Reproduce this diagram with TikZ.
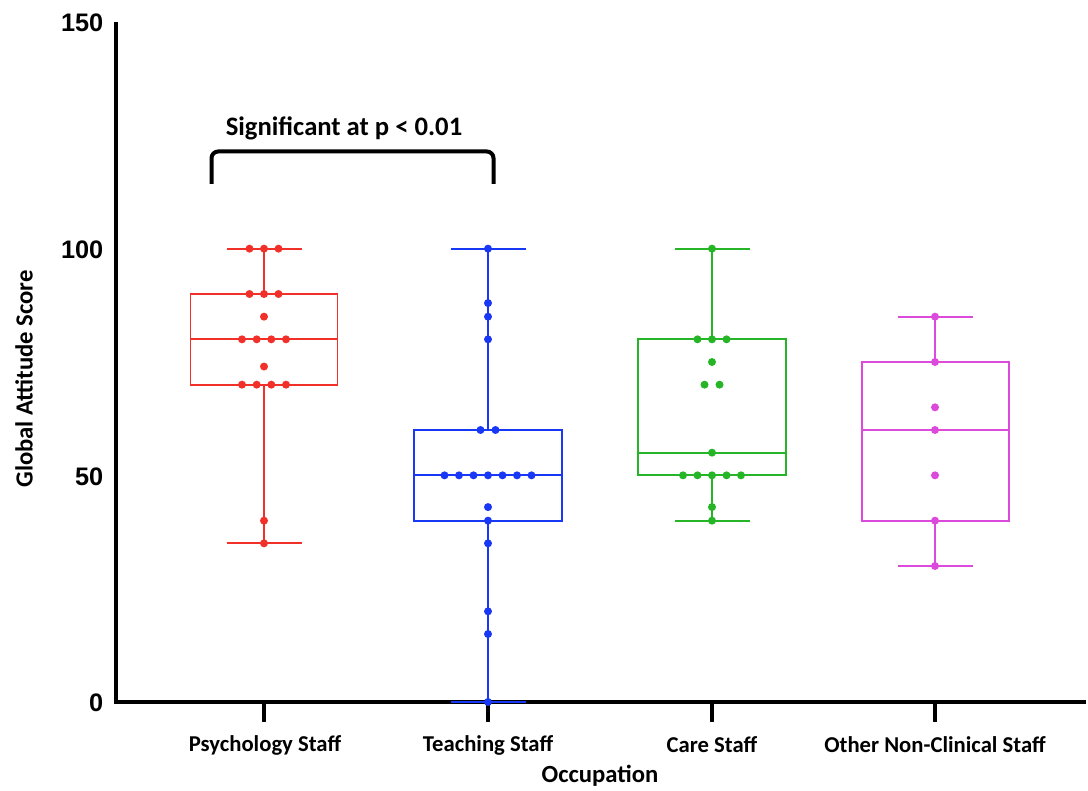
\documentclass[tikz,border=0pt]{standalone}
\usepackage{fontspec}
\setmainfont{Carlito}
\newfontfamily\numfont{Liberation Sans}
\usepackage{xcolor}
\usepackage{tikz}
\definecolor{GARed}{HTML}{F2302A}
\definecolor{GABlue}{HTML}{1838F5}
\definecolor{GAGreen}{HTML}{26B526}
\definecolor{GAPink}{HTML}{DC4ADC}
\tikzset{
  axisln/.style={line width=3pt},
  boxln/.style={line width=1.4pt},
  ticklab/.style={anchor=east,font=\numfont\bfseries\fontsize{19}{19}\selectfont},
  catlab/.style={font=\bfseries\fontsize{17}{17}\selectfont},
}

\begin{document}
\begin{tikzpicture}[x=0.75pt,y=-0.75pt]
\path[use as bounding box] (0,0) rectangle (1088,791);
% axes
\draw[axisln] (116,22) -- (116,702) -- (1086,702);
\foreach \cx in {264,488,712,935}
  \draw[axisln] (\cx,702) -- (\cx,722);
\node[ticklab] (t150) at (108,23) {150};
\node[ticklab] (t100) at (108,250) {100};
\node[ticklab] (t50) at (108,477) {50};
\node[ticklab] (t0) at (108,703) {0};
\node[rotate=90,font=\bfseries\fontsize{18.5}{18.5}\selectfont] (ylab) at (24,379) {Global Attitude Score};
\node[catlab] (cpsy) at (265,745) {Psychology Staff};
\node[catlab] (cteach) at (488,745) {Teaching Staff};
\node[catlab] (ccare) at (712,745) {Care Staff};
\node[catlab] (cother) at (935,745) {Other Non-Clinical Staff};
\node[font=\bfseries\fontsize{18.5}{18.5}\selectfont] (xlab) at (600,776) {Occupation};

% data, value scale
\begin{scope}[shift={(0,702)},y=3.4pt]
% Psychology Staff
\draw[GARed,boxln] (190.5,70) rectangle (337.5,90);
\draw[GARed,boxln] (190.5,80) -- (337.5,80);
\draw[GARed,boxln] (264,90) -- (264,100) (226.5,100) -- (301.5,100);
\draw[GARed,boxln] (264,70) -- (264,35) (226.5,35) -- (301.5,35);
\foreach \px/\pv in {249.5/100,264/100,278.5/100,249.5/90,264/90,278.5/90,264/85,
  242/80,256.7/80,271.3/80,286/80,264/74,242/70,256.7/70,271.3/70,286/70,264/40,264/35}
  \fill[GARed] (\px,\pv) circle (3pt);
% Teaching Staff
\draw[GABlue,boxln] (414,40) rectangle (562,60);
\draw[GABlue,boxln] (414,50) -- (562,50);
\draw[GABlue,boxln] (488,60) -- (488,100) (450.5,100) -- (525.5,100);
\draw[GABlue,boxln] (488,40) -- (488,0) (450.5,0) -- (525.5,0);
\foreach \px/\pv in {488/100,488/88,488/85,488/80,480.5/60,495.5/60,
  444.5/50,459/50,473.5/50,488/50,502.5/50,517/50,531.5/50,
  488/43,488/40,488/35,488/20,488/15,488/0}
  \fill[GABlue] (\px,\pv) circle (3pt);
% Care Staff
\draw[GAGreen,boxln] (638,50) rectangle (786,80);
\draw[GAGreen,boxln] (638,55) -- (786,55);
\draw[GAGreen,boxln] (712,80) -- (712,100) (674.5,100) -- (749.5,100);
\draw[GAGreen,boxln] (712,50) -- (712,40) (674.5,40) -- (749.5,40);
\foreach \px/\pv in {712/100,697.5/80,712/80,726.5/80,712/75,704.5/70,719.5/70,712/55,
  683/50,697.5/50,712/50,726.5/50,741/50,712/43,712/40}
  \fill[GAGreen] (\px,\pv) circle (3pt);
% Other Non-Clinical Staff
\draw[GAPink,boxln] (862,40) rectangle (1009,75);
\draw[GAPink,boxln] (862,60) -- (1009,60);
\draw[GAPink,boxln] (935,75) -- (935,85) (897.5,85) -- (972.5,85);
\draw[GAPink,boxln] (935,40) -- (935,30) (897.5,30) -- (972.5,30);
\foreach \px/\pv in {935/85,935/75,935/65,935/60,935/50,935/40,935/30}
  \fill[GAPink] (\px,\pv) circle (3pt);
\end{scope}

% significance bracket
\coordinate (brl) at (211.5,184);
\coordinate (brr) at (493.5,184);
\draw[axisln,rounded corners=5pt] (brl) -- (211.5,151.5) -- (493.5,151.5) -- (brr);
\node[font=\bfseries\fontsize{20}{20}\selectfont] (sig) at (344,128) {Significant at p < 0.01};
\end{tikzpicture}
\end{document}
